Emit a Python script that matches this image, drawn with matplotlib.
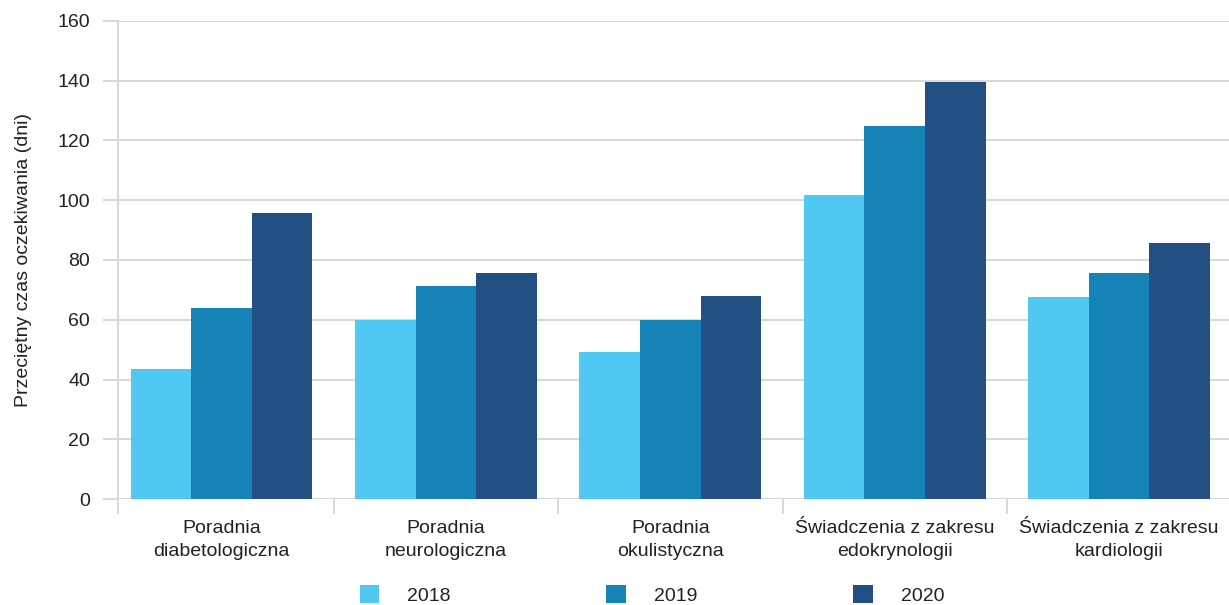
import matplotlib
matplotlib.use("Agg")
import matplotlib.pyplot as plt
import numpy as np
from matplotlib.patches import Patch

categories = ["Poradnia\ndiabetologiczna", "Poradnia\nneurologiczna", "Poradnia\nokulistyczna",
              "Świadczenia z zakresu\nedokrynologii", "Świadczenia z zakresu\nkardiologii"]
years = ["2018", "2019", "2020"]
v2018 = [43.5, 60, 49.2, 101.6, 67.6]
v2019 = [64, 71.3, 60, 125, 75.5]
v2020 = [95.7, 75.8, 68, 139.7, 85.8]
colors = ["#4FC9F1", "#1683B6", "#244F83"]
yticks = [0, 20, 40, 60, 80, 100, 120, 140, 160]

plt.rcParams['font.family'] = ['Liberation Sans', 'DejaVu Sans']
TXT = "#222222"
GRID = "#D9D9D9"
FS = 14

fig = plt.figure(figsize=(12.29, 6.05), dpi=100)
ax = fig.add_axes([117.7/1229, 1-499/605, 1-117.7/1229, (499-21)/605])

x = np.arange(len(categories))
w = 0.27
for i, (vals, c) in enumerate(zip([v2018, v2019, v2020], colors)):
    ax.bar(x + (i-1)*w, vals, width=w, color=c, zorder=3, linewidth=0)

ax.set_ylim(0, 160)
ax.set_xlim(-0.463, 4.49)
ax.set_yticks(yticks)
ax.set_yticklabels([str(t) for t in yticks], fontsize=FS, color=TXT)
ax.yaxis.grid(True, color=GRID, linewidth=1.5, zorder=0)
ax.tick_params(axis='y', length=11, width=1.5, color=GRID, pad=9)

# x: boundaries as major ticks, labels as minor ticks
ax.set_xticks([-0.463, 0.5, 1.5, 2.5, 3.5])
ax.set_xticklabels([])
ax.tick_params(axis='x', which='major', length=10.5, width=1.5, color=GRID)
ax.set_xticks(x, minor=True)
ax.set_xticklabels(categories, minor=True, fontsize=FS, color=TXT, linespacing=1.45)
ax.tick_params(axis='x', which='minor', length=0, pad=15)

for s in ['top', 'right', 'bottom']:
    ax.spines[s].set_visible(False)
ax.spines['left'].set_color(GRID)
ax.spines['left'].set_linewidth(1.5)

ax.set_ylabel("Przeciętny czas oczekiwania (dni)", fontsize=FS, color=TXT)
ax.yaxis.set_label_coords(-0.077, 0.5)

handles = [Patch(facecolor=c, edgecolor='none') for c in colors]
fig.legend(handles, years, loc='center', bbox_to_anchor=(652/1229, 1-595/605), ncol=3,
           frameon=False, fontsize=FS, handlelength=1.0, handleheight=1.0,
           handletextpad=1.45, columnspacing=8.0, labelcolor=TXT,
           borderpad=0.2)

fig.savefig("out.png", dpi=100)
